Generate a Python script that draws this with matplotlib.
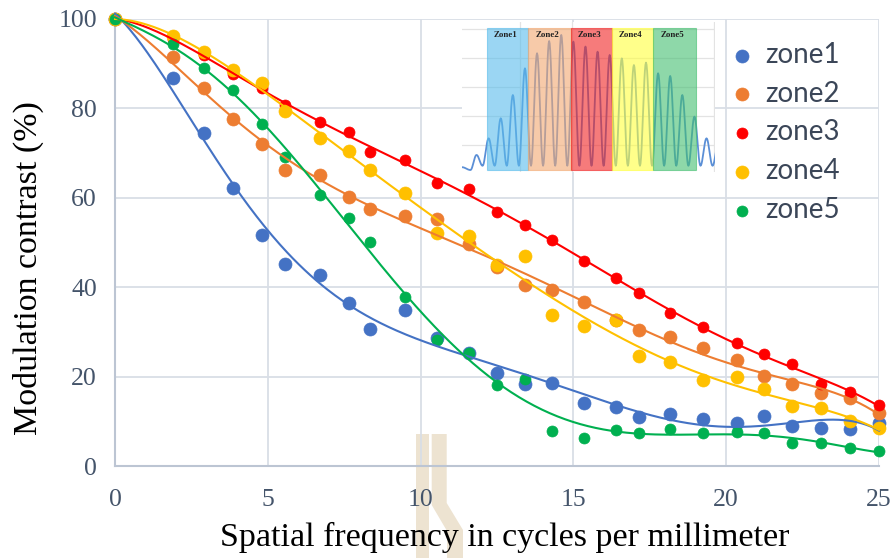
import numpy as np
import matplotlib
matplotlib.use('Agg')
import matplotlib.pyplot as plt
from matplotlib.patches import Polygon, Rectangle

# measured MTF points, spatial frequency in cycles/mm
freq = [0, 1.9, 2.9, 3.85, 4.8, 5.55, 6.7, 7.65, 8.35, 9.5, 10.55, 11.6, 12.5,
        13.4, 14.3, 15.35, 16.4, 17.15, 18.15, 19.25, 20.35, 21.25, 22.15,
        23.1, 24.05, 25.0]
zone1 = [100, 86.7, 74.4, 62.3, 51.7, 45.2, 42.7, 36.4, 30.6, 34.9, 28.6, 25.4,
         20.9, 18.4, 18.7, 14.2, 13.3, 11.1, 11.6, 10.5, 9.7, 11.2, 8.9, 8.6,
         8.3, 9.7]
zone2 = [100, 91.4, 84.6, 77.6, 72.0, 66.2, 65.1, 60.2, 57.4, 55.9, 55.2, 49.7,
         44.6, 40.5, 39.4, 36.8, 32.7, 30.5, 28.8, 26.4, 23.8, 20.2, 18.4, 16.4,
         15.2, 12.0]
zone3 = [100, 95.5, 91.8, 87.6, 84.6, 80.8, 76.9, 74.6, 70.3, 68.4, 63.2, 61.9,
         56.8, 53.9, 50.6, 45.9, 42.0, 38.7, 34.2, 31.2, 27.6, 25.0, 22.8, 18.4,
         16.7, 13.7]
zone4 = [100, 96.2, 92.6, 88.5, 85.6, 79.5, 73.3, 70.5, 66.3, 61.0, 52.1, 51.5,
         45.0, 47.1, 33.8, 31.4, 32.8, 24.6, 23.2, 19.2, 19.9, 17.2, 13.5, 13.0,
         10.1, 8.6]
zone5 = [100, 94.4, 89.1, 84.1, 76.6, 69.2, 60.6, 55.5, 50.1, 37.9, 28.2, 25.4,
         18.2, 19.6, 8.0, 6.4, 8.1, 7.5, 8.3, 7.4, 7.7, 7.4, 5.1, 5.1, 4.2, 3.4]

series = [zone1, zone2, zone3, zone4, zone5]
names = ['zone1', 'zone2', 'zone3', 'zone4', 'zone5']
colors = ['#4472C4', '#ED7D31', '#FF0000', '#FFC000', '#00B050']
dot_px = [13, 13, 11, 13, 11]

# inset: line profile across the five zones (peak heights per fringe)
fringe_peaks = [0.106, 0.223, 0.364, 0.528, 0.716, 0.822, 0.908, 0.951, 0.904,
                0.869, 0.833, 0.81, 0.786, 0.739, 0.756, 0.681, 0.662, 0.528,
                0.376, 0.223, 0.2]
zone_edges = [2.07, 5.45, 9.0, 12.4, 15.8, 19.3]
zone_labels = ['Zone1', 'Zone2', 'Zone3', 'Zone4', 'Zone5']
zone_fill = ['#58BCEB', '#F2A871', '#F12323', '#FFFF3C', '#43BE70']

fig = plt.figure(figsize=(8.92, 5.58), dpi=100)
W, H = 892, 558


def px_box(x0, y0, x1, y1):
    return [x0 / W, 1 - y1 / H, (x1 - x0) / W, (y1 - y0) / H]


# faint logo behind the axes
wm = '#EDE3D1'
for pts in ([(415.7, 434), (429.3, 434), (429.3, 558), (415.7, 558)],
            [(431.7, 434), (446.7, 434), (446.7, 503), (463, 530), (463, 558),
             (447, 558), (447, 531), (431.7, 505)]):
    fig.add_artist(Polygon([(x / W, 1 - y / H) for x, y in pts], closed=True,
                           transform=fig.transFigure, facecolor=wm,
                           edgecolor='none', zorder=-1))

ax = fig.add_axes(px_box(115, 18.8, 879, 466.3))
ax.set_facecolor('none')

for vals, name, c, d in zip(series, names, colors, dot_px):
    ax.scatter(freq, vals, s=(d * 0.72) ** 2, color=c, label=name,
               edgecolors=c, linewidths=0.5, zorder=3, clip_on=False)

xs = np.linspace(0, 25, 400)
for vals, c in zip(series, colors):
    coef = np.polyfit(freq, vals, 6)
    ax.plot(xs, np.polyval(coef, xs), color=c, lw=1.5, zorder=4, clip_on=False)

ax.set_xlim(0, 25)
ax.set_ylim(0, 100)
ax.set_xticks([0, 5, 10, 15, 20, 25])
ax.set_yticks([0, 20, 40, 60, 80, 100])
ax.grid(color='#D9DEE6', lw=1.3)
ax.set_axisbelow(True)
for s in ['top', 'right']:
    ax.spines[s].set_visible(False)
for s in ['left', 'bottom']:
    ax.spines[s].set_color('#BCC5D3')
    ax.spines[s].set_linewidth(1.5)

ax.tick_params(length=0, colors='#44546A')
ax.tick_params(axis='y', pad=13)
ax.tick_params(axis='x', pad=16)
for lab in ax.get_xticklabels() + ax.get_yticklabels():
    lab.set_fontfamily('Liberation Serif')
    lab.set_fontsize(18.5)

ax.set_xlabel('Spatial frequency in cycles per millimeter',
              family='Liberation Serif', size=24.5)
ax.set_ylabel('Modulation contrast (%)', family='Liberation Serif', size=24.5)
ax.xaxis.set_label_coords(0.5105, -0.1245)
ax.yaxis.set_label_coords(-0.093, 0.443)

leg = ax.legend(loc='upper left', bbox_to_anchor=(717 / W, 1 - 28 / H),
                bbox_transform=fig.transFigure, frameon=False,
                prop=dict(family='Lato', size=20), labelcolor='#3B4658',
                handlelength=0.8, handletextpad=0.45, labelspacing=0.46,
                borderpad=0, scatterpoints=1)

# inset with the zone profile
ins = fig.add_axes(px_box(462, 22, 715, 172))
ins.set_facecolor('white')
for s in ins.spines.values():
    s.set_visible(False)
ins.set_xticks([])
ins.set_yticks([])
ins.set_xlim(0, 20.9)
ins.set_ylim(-0.014, 1.042)
for gy in [0.176, 0.381, 0.586, 0.791, 0.996]:
    ins.axhline(gy, color='#E3E3E3', lw=0.9, zorder=0)
for gx in [4.79, 9.09, 20.85]:
    ins.axvline(gx, color='#E3E3E3', lw=0.9, zorder=0)

ext_x = [0.0, 0.7]
ext_y = [0.02, 0.0]
for k, p in enumerate(fringe_peaks):
    ext_x += [1.2 + k, 1.7 + k]
    ext_y += [p, 0.03]
wx, wy = [], []
for i in range(len(ext_x) - 1):
    t = np.linspace(0, 1, 12)
    wx.append(ext_x[i] + (ext_x[i + 1] - ext_x[i]) * t)
    wy.append(ext_y[i] + (ext_y[i + 1] - ext_y[i]) * (1 - np.cos(np.pi * t)) / 2)
ins.plot(np.concatenate(wx), np.concatenate(wy), color='#5B8FD6', lw=1.3,
         zorder=2)

for i, (lab, fc) in enumerate(zip(zone_labels, zone_fill)):
    x0, x1 = zone_edges[i], zone_edges[i + 1]
    ins.add_patch(Rectangle((x0, 0), x1 - x0, 1.0, facecolor=fc, alpha=0.6,
                            edgecolor=fc, lw=0.8, zorder=3))
    ins.text((x0 + x1) / 2 - 0.2, 0.95, lab, ha='center', va='center',
             family='Liberation Serif', weight='bold', size=6.5, color='#222222',
             zorder=4)

fig.savefig('out.png', dpi=100)
